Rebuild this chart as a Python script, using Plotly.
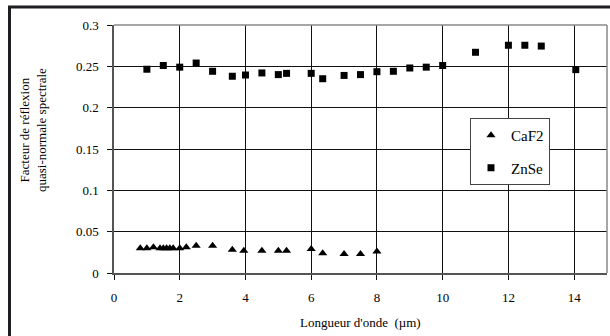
import plotly.graph_objects as go

caf2_x = [0.8, 1.0, 1.2, 1.4, 1.5, 1.6, 1.7, 1.8, 2.0, 2.2, 2.5, 3.0, 3.6, 3.95,
          4.5, 5.0, 5.25, 6.0, 6.35, 7.0, 7.5, 8.0]
caf2_y = [0.030, 0.030, 0.031, 0.030, 0.030, 0.030, 0.030, 0.030, 0.030, 0.031,
          0.033, 0.033, 0.028, 0.027, 0.027, 0.027, 0.027, 0.029, 0.024, 0.023,
          0.023, 0.026]

znse_x = [1.0, 1.5, 2.0, 2.5, 3.0, 3.6, 4.0, 4.5, 5.0, 5.25, 6.0, 6.35, 7.0, 7.5,
          8.0, 8.5, 9.0, 9.5, 10.0, 11.0, 12.0, 12.5, 13.0, 14.05]
znse_y = [0.2465, 0.251, 0.249, 0.254, 0.244, 0.238, 0.2395, 0.242, 0.240, 0.2415,
          0.2415, 0.235, 0.239, 0.240, 0.2435, 0.244, 0.248, 0.249, 0.251, 0.267,
          0.2755, 0.2755, 0.2745, 0.246]

y_ticks = [0, 0.05, 0.1, 0.15, 0.2, 0.25, 0.3]
y_tick_labels = ["0", "0.05", "0.1", "0.15", "0.2", "0.25", "0.3"]
x_ticks = [0, 2, 4, 6, 8, 10, 12, 14]

FONT = "Liberation Serif"

fig = go.Figure()
fig.add_trace(go.Scatter(
    x=caf2_x, y=caf2_y, mode="markers", name="CaF2", legendgroup="a",
    marker=dict(symbol="triangle-up", size=8, color="black"),
))
fig.add_trace(go.Scatter(
    x=znse_x, y=znse_y, mode="markers", name="ZnSe", legendgroup="b",
    marker=dict(symbol="square", size=7, color="black"),
))

L, R, T, B = 114, 3, 25, 63
W, H = 610, 336
pw, ph = W - L - R, H - T - B


def px_x(p):
    return (p - L) / pw


def px_y(p):
    return (H - B - p) / ph


fig.update_layout(
    width=W, height=H,
    margin=dict(l=L, r=R, t=T, b=B, autoexpand=False),
    paper_bgcolor="white", plot_bgcolor="white",
    font=dict(family=FONT, size=13, color="black"),
    showlegend=True,
    legend=dict(
        x=px_x(470), y=px_y(118), xanchor="left", yanchor="top",
        bordercolor="#444444", borderwidth=1, bgcolor="white",
        font=dict(family=FONT, size=15, color="black"),
        traceorder="grouped", tracegroupgap=10,
        itemsizing="trace",
    ),
    xaxis=dict(
        range=[0, 15], tickvals=x_ticks, ticks="outside", ticklen=5,
        tickcolor="#111111", showgrid=True, gridcolor="#111111", gridwidth=1,
        showline=True, linecolor="#555555", linewidth=1.5, zeroline=False,
        ticklabelstandoff=7, tickfont=dict(family=FONT, size=13),
    ),
    yaxis=dict(
        range=[0, 0.3], tickvals=y_ticks, ticktext=y_tick_labels,
        ticks="outside", ticklen=5, tickcolor="#111111",
        showgrid=True, gridcolor="#111111", gridwidth=1,
        showline=True, linecolor="#555555", linewidth=1.5, zeroline=False,
        ticklabelstandoff=6, tickfont=dict(family=FONT, size=13),
    ),
    shapes=[
        dict(type="line", xref="paper", yref="paper", x0=0, x1=1, y0=1, y1=1,
             line=dict(color="#888888", width=1.5)),
        dict(type="line", xref="paper", yref="paper", x0=1, x1=1, y0=0, y1=1,
             line=dict(color="#888888", width=1.5)),
        dict(type="rect", xref="paper", yref="paper",
             x0=px_x(9.5), x1=px_x(640), y0=px_y(360), y1=px_y(7),
             line=dict(color="#1e1e23", width=3), fillcolor="rgba(0,0,0,0)"),
    ],
    annotations=[
        dict(text="Facteur de réflexion<br>quasi-normale spectrale",
             xref="paper", yref="paper", x=px_x(33), y=px_y(130),
             textangle=-90, showarrow=False, xanchor="center", yanchor="middle",
             font=dict(family=FONT, size=13)),
        dict(text="Longueur d'onde  (µm)", xref="paper", yref="paper",
             x=px_x(360), y=px_y(322), showarrow=False,
             xanchor="center", yanchor="middle", font=dict(family=FONT, size=13)),
    ],
)

fig.write_html("out.html", config={"displayModeBar": False},
               post_script="document.body.style.margin='0';document.body.style.overflow='hidden';")
